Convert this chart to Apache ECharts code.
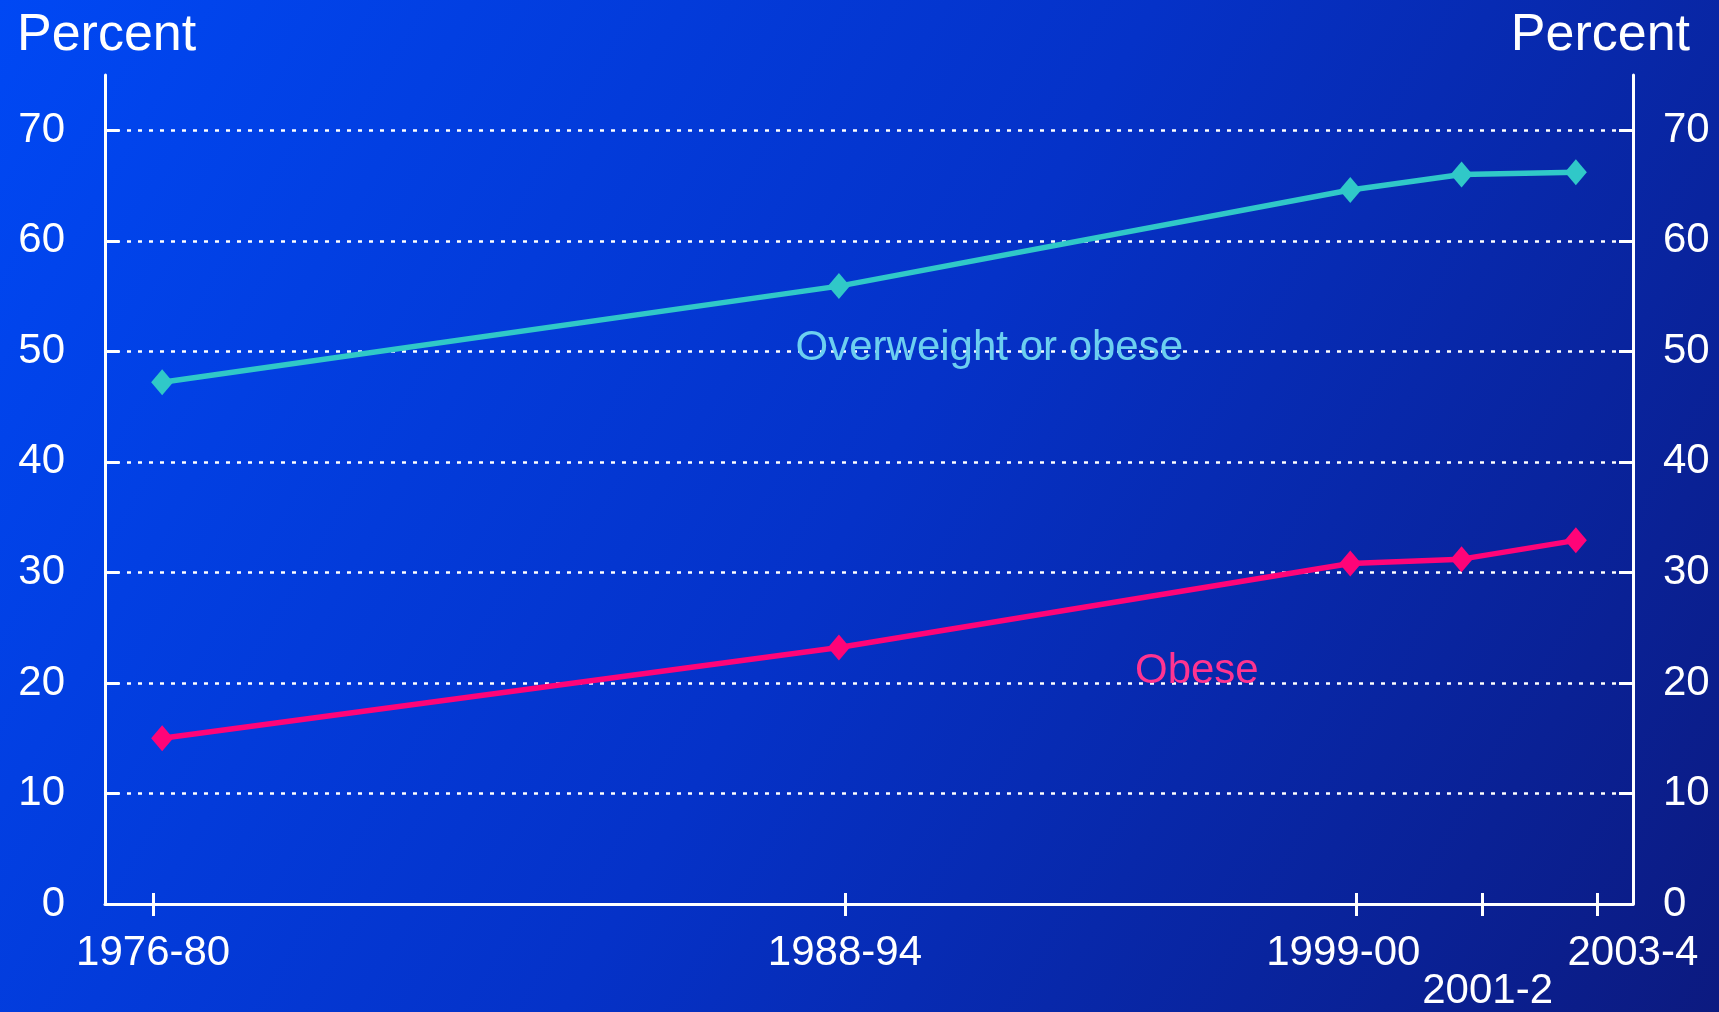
<!DOCTYPE html>
<html>
<head>
<meta charset="utf-8">
<script src="https://cdn.jsdelivr.net/npm/echarts@6/dist/echarts.min.js"></script>
<style>
  html, body { margin: 0; padding: 0; }
  #main { width: 1719px; height: 1012px; }
</style>
</head>
<body>
<div id="main"></div>
<script>
// survey periods on a year scale (points and axis ticks sit slightly apart in the original)
const periodLabels = ['1976-80', '1988-94', '1999-00', '2001-2', '2003-4']
const pointYears = [1979.65, 1990.9, 1999.4, 2001.25, 2003.15]
const tickYears = [1979.5, 1991, 1999.5, 2001.6, 2003.5]
const overweightOrObese = [47.2, 55.9, 64.6, 66.0, 66.2]
const obese = [15.0, 23.2, 30.8, 31.2, 32.9]
const yTicks = [0, 10, 20, 30, 40, 50, 60, 70]

const font = 'Liberation Sans, Arial, sans-serif'
const white = '#ffffff'

const myChart = echarts.init(document.getElementById('main'))

function pairs(vals) {
    return pointYears.map((x, i) => [x, vals[i]])
}

function yAxisCfg(pos, margin) {
    return {
        type: 'value',
        position: pos,
        min: 0,
        max: 75,
        interval: 10,
        axisLine: { show: true, lineStyle: { color: white, width: 3 } },
        axisTick: { show: true, inside: true, length: 14, customValues: yTicks,
            lineStyle: { color: white, width: 3 } },
        axisLabel: { customValues: yTicks, margin: margin, color: white,
            fontSize: 42, fontFamily: font,
            align: pos === 'left' ? 'right' : 'left' },
        splitLine: pos === 'left' ? {
            show: true, showMaxLine: true, showMinLine: false,
            lineStyle: { color: white, width: 2.5, type: [4, 7] }
        } : { show: false }
    }
}

const xBase = {
    type: 'value',
    min: 1978.7,
    max: 2004.1,
    splitLine: { show: false }
}

myChart.setOption({
    backgroundColor: {
        type: 'linear', x: 0, y: 0, x2: 1, y2: 1,
        colorStops: [
            { offset: 0, color: '#0048f4' },
            { offset: 0.5, color: '#0532c8' },
            { offset: 1, color: '#0c1a80' }
        ]
    },
    animation: false,
    title: [
        { text: 'Percent', left: 12, top: 5,
          textStyle: { color: white, fontSize: 52, fontWeight: 'normal', fontFamily: font } },
        { text: 'Percent', right: 24, top: 5,
          textStyle: { color: white, fontSize: 52, fontWeight: 'normal', fontFamily: font } }
    ],
    grid: { left: 105, right: 86, top: 75, bottom: 100 },
    xAxis: [
        Object.assign({}, xBase, {
            position: 'bottom',
            axisLine: { show: true, onZero: false, lineStyle: { color: white, width: 3 } },
            axisTick: { show: true, length: 12, customValues: tickYears,
                lineStyle: { color: white, width: 3 } },
            axisLabel: {
                customValues: tickYears,
                margin: 28,
                color: white,
                fontSize: 42,
                fontFamily: font,
                formatter: function (v) {
                    const i = tickYears.indexOf(v)
                    const s = periodLabels[i]
                    if (i === 2) return '{l|' + s + '}'
                    if (i === 3) return '{d|' + s + '}'
                    if (i === 4) return '{r|' + s + '}'
                    return s
                },
                rich: {
                    l: { color: white, fontSize: 42, fontFamily: font, padding: [0, 26, 0, 0] },
                    d: { color: white, fontSize: 42, fontFamily: font, padding: [38, 0, 0, 10] },
                    r: { color: white, fontSize: 42, fontFamily: font, padding: [0, 0, 0, 72] }
                }
            }
        }),
        Object.assign({}, xBase, {
            position: 'bottom',
            axisLine: { show: false, onZero: false },
            axisTick: { show: true, inside: true, length: 11, customValues: tickYears,
                lineStyle: { color: white, width: 3 } },
            axisLabel: { show: false }
        })
    ],
    yAxis: [yAxisCfg('left', 40), yAxisCfg('right', 30)],
    series: [
        {
            name: 'Overweight or obese',
            type: 'line',
            data: pairs(overweightOrObese),
            symbol: 'diamond',
            symbolSize: [22, 26],
            lineStyle: { color: '#30c8c8', width: 5.5 },
            itemStyle: { color: '#30c8c8' },
            markPoint: {
                symbol: 'circle', symbolSize: 1,
                itemStyle: { color: 'rgba(0,0,0,0)' },
                label: { show: true, position: 'inside', color: '#6ccff0',
                    fontSize: 42, fontFamily: font, formatter: 'Overweight or obese' },
                data: [{ coord: [1993.4, 50.3] }]
            }
        },
        {
            name: 'Obese',
            type: 'line',
            data: pairs(obese),
            symbol: 'diamond',
            symbolSize: [22, 26],
            lineStyle: { color: '#ff0478', width: 5.5 },
            itemStyle: { color: '#ff0478' },
            markPoint: {
                symbol: 'circle', symbolSize: 1,
                itemStyle: { color: 'rgba(0,0,0,0)' },
                label: { show: true, position: 'inside', color: '#ff3490',
                    fontSize: 42, fontFamily: font, formatter: 'Obese' },
                data: [{ coord: [1996.85, 21.0] }]
            }
        }
    ]
})
</script>
</body>
</html>
